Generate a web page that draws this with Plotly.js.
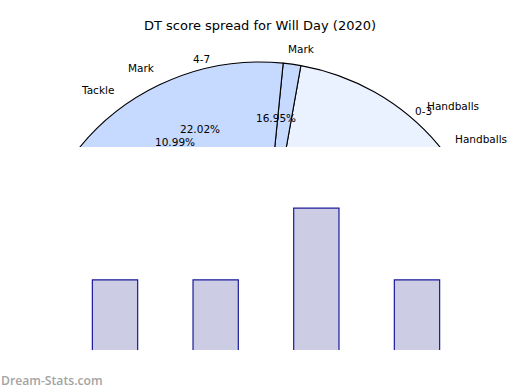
<!DOCTYPE html>
<html><head><meta charset="utf-8">
<script src="https://cdn.plot.ly/plotly-3.0.1.min.js"></script>
<style>
html,body{margin:0;padding:0;background:#fff;}
#wrap{position:relative;width:520px;height:390px;overflow:hidden;background:#fff;}
#pieclip{position:absolute;left:0;top:0;width:520px;height:147px;overflow:hidden;}
#pie{position:absolute;left:0;top:0;width:520px;height:600px;}
#bars{position:absolute;left:0;top:0;width:520px;height:390px;}
</style></head><body>
<div id="wrap"><div id="pieclip"><div id="pie"></div></div><div id="bars"></div></div>
<script>
// ---- data ----
const sliceLabels = ["Handballs", "Mark", "Tackle", "Kick"];
const sliceValues = [22.19, 1.22, 34.92, 41.67];
const sliceColors = ["#ebf2ff", "#c6d9ff", "#c6d9ff", "#a9c6ff"];

const outerLabels = ["Mark", "4-7", "Mark", "Tackle", "0-3", "Handballs", "Handballs"];
const pctLabels = ["16.95%", "22.02%", "10.99%"];

const scoreBins = ["0-3", "4-7", "8-11", "12-15"];
const binCounts = [1, 1, 2, 1];

// ---- layout helpers (pixel positions of text in the 520x600 pie canvas) ----
const PW = 520, PH = 600;
const outerPos = [[301,49.3],[201,59.3],[141,68.3],[97.3,90],[423.3,111],[452.7,106],[480.7,139.3]];
const pctPos = [[276,118.3],[200,129.3],[175,142]];
const txtFont = {family: "DejaVu Sans", size: 10.5, color: "#000"};

function ann(text, p) {
  return {text: text, x: p[0] / PW, y: 1 - p[1] / PH, xref: "paper", yref: "paper",
          xanchor: "center", yanchor: "middle", showarrow: false, font: txtFont};
}
const pieAnns = outerLabels.map((t, i) => ann(t, outerPos[i]))
  .concat(pctLabels.map((t, i) => ann(t, pctPos[i])));

const cx = 260, cyTop = 295, R = 233;
Plotly.newPlot("pie", [{
  type: "pie",
  labels: sliceLabels,
  values: sliceValues,
  sort: false,
  direction: "counterclockwise",
  rotation: 10.1,
  textinfo: "none",
  hoverinfo: "skip",
  marker: {colors: sliceColors, line: {color: "#000", width: 1.1}},
  domain: {x: [(cx - R) / PW, (cx + R) / PW], y: [(PH - cyTop - R) / PH, (PH - cyTop + R) / PH]},
  showlegend: false
}], {
  width: PW, height: PH,
  margin: {l: 0, r: 0, t: 0, b: 0},
  paper_bgcolor: "rgba(0,0,0,0)",
  showlegend: false,
  title: {text: "DT score spread for Will Day (2020)", font: {family: "DejaVu Sans", size: 13, color: "#000"},
          xref: "container", yref: "container", x: 0.5, xanchor: "center", y: 1 - 25 / PH, yanchor: "middle"},
  annotations: pieAnns
}, {staticPlot: true});

const L = 74.8, Rm = 63.1, T = 201.2, B = 40;
const plotW = 520 - L - Rm, plotH = 390 - T - B;
Plotly.newPlot("bars", [{
  type: "bar",
  x: scoreBins,
  y: binCounts,
  width: 0.45,
  marker: {color: "#ccccE5", line: {color: "#1a1a9a", width: 1.2}},
  hoverinfo: "skip"
}], {
  width: 520, height: 390,
  margin: {l: L, r: Rm, t: T, b: B},
  paper_bgcolor: "rgba(0,0,0,0)",
  plot_bgcolor: "rgba(0,0,0,0)",
  xaxis: {type: "category", range: [-0.3975, 3.3975], visible: false, fixedrange: true},
  yaxis: {range: [0.02, 2.1], visible: false, fixedrange: true},
  showlegend: false,
  annotations: [{
    text: "Dream-Stats.com", xref: "paper", yref: "paper",
    x: (0 - L) / plotW, y: (350 - 380) / plotH, xanchor: "left", yanchor: "middle",
    showarrow: false, borderpad: 0,
    font: {family: "Open Sans", size: 12.2, color: "#a3a3a3", weight: 600}
  }]
}, {staticPlot: true});
</script>
</body></html>
